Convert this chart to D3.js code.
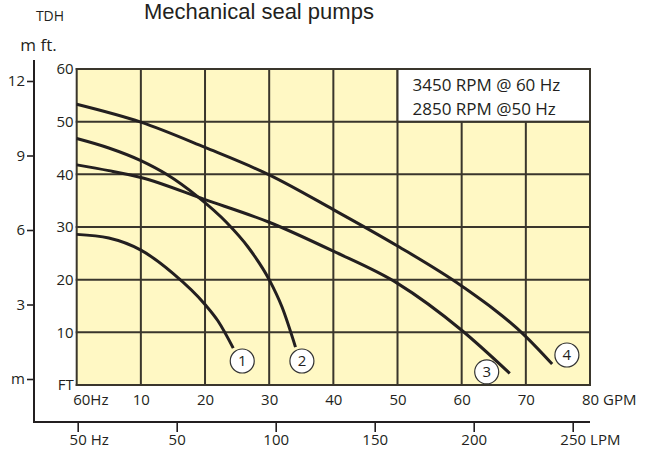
<!DOCTYPE html>
<html>
<head>
<meta charset="utf-8">
<script src="https://cdn.jsdelivr.net/npm/d3@7"></script>
<style>
  html, body { margin: 0; padding: 0; background: #ffffff; }
  svg { display: block; }
  text { font-family: "Open Sans", "Noto Sans", sans-serif; fill: #231f20; }
</style>
</head>
<body>
<svg id="chart" width="645" height="450"></svg>
<script>
// ---------- data ----------
const gpmTicks = [0, 10, 20, 30, 40, 50, 60, 70, 80];
const ftTicks = [0, 10, 20, 30, 40, 50, 60];
const mTicks = [0, 3, 6, 9, 12];
const lpmTicks = [0, 50, 100, 150, 200, 250];
const curveNames = ["1", "2", "3", "4"];
// [GPM, feet]
const pump1 = [[0, 28.6], [5, 27.9], [10, 25.6], [15, 21.2], [20, 15.3], [22, 12.2], [24.4, 7.0]];
const pump2 = [[0, 46.8], [5, 45.0], [10, 42.6], [14, 40.0], [18.7, 35.9], [23.4, 30.8], [26.7, 26.2], [30, 20.0], [32, 14.8], [34.1, 7.2]];
const pump3 = [[0, 41.8], [5, 40.7], [10, 39.4], [20, 35.2], [30, 30.9], [40, 25.4], [50, 19.3], [60, 10.4], [67.5, 2.2]];
const pump4 = [[0, 53.3], [10, 49.9], [20, 45.1], [30, 39.9], [40, 33.3], [50, 26.4], [60, 18.8], [70, 9.2], [74.1, 4.0]];
const labelPos = [[25.8, 4.56], [35.1, 4.56], [63.9, 2.5], [76.4, 5.7]];
const legendLines = ["3450 RPM @ 60 Hz", "2850 RPM @50 Hz"];
const title = "Mechanical seal pumps";

// ---------- layout ----------
const svg = d3.select("#chart");
const ink = "#231f20";
const gridColor = "#3a362c";
const FONT = "'Open Sans', sans-serif";
const x = d3.scaleLinear().domain([0, 80]).range([76.7, 590]);
const y = d3.scaleLinear().domain([0, 60]).range([385, 69]);
const yM = d3.scaleLinear().domain([0, 12]).range([379, 81]);
const xL = d3.scaleLinear().domain([0, 250]).range([77.7, 572.7]);

// title
svg.append("text").attr("x", 144).attr("y", 18.5)
  .style("font-family", "'Liberation Sans', Arial, sans-serif")
  .attr("font-size", 22).text(title);
svg.append("text").attr("x", 50).attr("y", 21).attr("text-anchor", "middle")
  .attr("font-size", 14).text("TDH");
svg.append("text").attr("x", 38.5).attr("y", 51).attr("text-anchor", "middle")
  .attr("font-size", 17).text("m ft.");

// plot background
svg.append("rect").attr("x", x(0)).attr("y", y(60))
  .attr("width", x(80) - x(0)).attr("height", y(0) - y(60))
  .attr("fill", "#fff8c4");

// grid
const grid = svg.append("g").attr("stroke", gridColor).attr("stroke-width", 2);
grid.selectAll("line.v").data(gpmTicks).join("line").attr("class", "v")
  .attr("x1", d => x(d)).attr("x2", d => x(d)).attr("y1", y(0) + 1).attr("y2", y(60) - 1);
grid.selectAll("line.h").data(ftTicks).join("line").attr("class", "h")
  .attr("y1", d => y(d)).attr("y2", d => y(d)).attr("x1", x(0) - 1).attr("x2", x(80) + 1);

function styleText(sel) {
  sel.attr("font-size", 15).style("font-family", FONT).attr("fill", ink);
}
function appendUnit(axisG, value, unit) {
  const t = axisG.selectAll(".tick").filter(d => d === value);
  const tx = t.select("text");
  const bb = tx.node().getBBox();
  t.append("text").attr("x", bb.x + bb.width + 4).attr("y", tx.attr("y"))
    .attr("dy", tx.attr("dy")).attr("text-anchor", "start")
    .call(styleText).text(unit);
}

// FT axis labels
const ftAxis = svg.append("g").attr("transform", `translate(${x(0)},0)`)
  .call(d3.axisLeft(y).tickValues(ftTicks).tickSize(0).tickPadding(3)
    .tickFormat(d => d === 0 ? "FT" : d));
ftAxis.select(".domain").remove();
ftAxis.selectAll("text").call(styleText);

// GPM labels
const gpmAxis = svg.append("g").attr("transform", `translate(0,${y(0) + 5})`)
  .call(d3.axisBottom(x).tickValues(gpmTicks).tickSize(0).tickPadding(4)
    .tickFormat(d => d === 0 ? "60Hz" : d));
gpmAxis.select(".domain").remove();
gpmAxis.selectAll("text").call(styleText);
gpmAxis.selectAll(".tick").filter(d => d === 0).select("text").attr("text-anchor", "start").attr("x", -4);
appendUnit(gpmAxis, 80, "GPM");

// metre axis
const mAxis = svg.append("g").attr("transform", "translate(34,0)")
  .call(d3.axisLeft(yM).tickValues(mTicks).tickSize(7).tickPadding(2)
    .tickFormat(d => d === 0 ? "m" : d));
mAxis.select(".domain").remove();
mAxis.selectAll("line").attr("stroke", ink).attr("stroke-width", 1.6);
mAxis.selectAll("text").call(styleText);
svg.append("line").attr("x1", 34).attr("x2", 34).attr("y1", 60).attr("y2", 423)
  .attr("stroke", ink).attr("stroke-width", 2);

// LPM axis
const lAxis = svg.append("g").attr("transform", "translate(0,422)")
  .call(d3.axisBottom(xL).tickValues(lpmTicks).tickSize(10).tickPadding(2)
    .tickFormat(d => d === 0 ? "50" : d));
lAxis.select(".domain").remove();
lAxis.selectAll("line").attr("stroke", ink).attr("stroke-width", 1.6);
lAxis.selectAll("text").call(styleText);
svg.append("line").attr("x1", 33).attr("x2", 590).attr("y1", 422).attr("y2", 422)
  .attr("stroke", ink).attr("stroke-width", 2);
appendUnit(lAxis, 0, "Hz");
appendUnit(lAxis, 250, "LPM");

// legend box
svg.append("rect").attr("x", x(50)).attr("y", y(60))
  .attr("width", x(80) - x(50)).attr("height", y(50) - y(60))
  .attr("fill", "#ffffff").attr("stroke", gridColor).attr("stroke-width", 2);
legendLines.forEach((s, i) => {
  svg.append("text").attr("x", x(50) + 15).attr("y", y(60) + 21.5 + i * 24)
    .attr("font-size", 17).text(s);
});

// curves
const line = d3.line().x(d => x(d[0])).y(d => y(d[1])).curve(d3.curveMonotoneX);
const curves = [pump1, pump2, pump3, pump4];
svg.append("g").selectAll("path").data(curves).join("path")
  .attr("d", line).attr("fill", "none").attr("stroke", ink).attr("stroke-width", 3);

// labels
const lab = svg.append("g").selectAll("g").data(curveNames).join("g")
  .attr("transform", (d, i) => `translate(${x(labelPos[i][0])},${y(labelPos[i][1])})`);
lab.append("circle").attr("r", 12).attr("fill", "#ffffff").attr("stroke", "#333").attr("stroke-width", 1.2);
lab.append("text").attr("text-anchor", "middle").attr("dy", "0.36em").attr("font-size", 15).text(d => d);
</script>
</body>
</html>
